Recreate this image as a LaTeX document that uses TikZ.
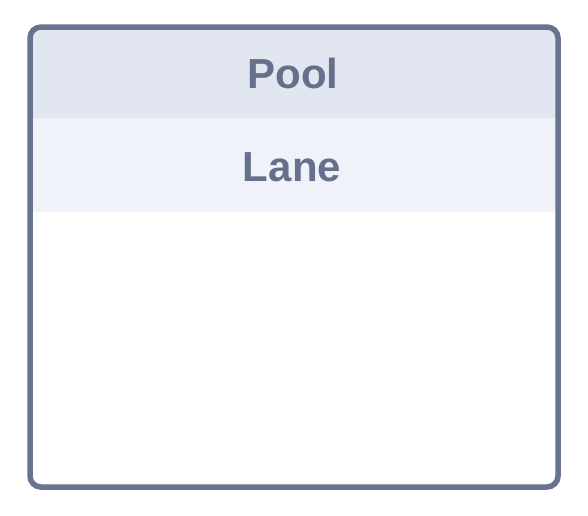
\documentclass[tikz,border=0pt]{standalone}
\usepackage{fontspec}
\setmainfont{Liberation Sans}
\definecolor{poolborder}{HTML}{68738F}
\definecolor{pooltext}{HTML}{66708B}
\definecolor{headfill}{HTML}{E2E6F0}
\definecolor{lanefill}{HTML}{EFF2F8}
\tikzset{
  poolframe/.style={draw=poolborder, line width=5.5pt, rounded corners=11pt},
  bandlabel/.style={text=pooltext, font=\fontsize{42}{48}\selectfont\bfseries, anchor=base, inner sep=0pt},
}
\begin{document}
\begin{tikzpicture}[x=1pt,y=-1pt]
\useasboundingbox (0,0) rectangle (588,515);
\begin{scope}
  \clip[rounded corners=11pt] (30,27) rectangle (558,487);
  \fill[white] (30,27) rectangle (558,487);
  \fill[headfill] (30,27) rectangle (558,118);
  \fill[lanefill] (30,118) rectangle (558,212);
\end{scope}
\node[poolframe, minimum width=528pt, minimum height=460pt, inner sep=0pt] (pool) at (294,257) {};
\node[bandlabel] (pooltitle) at (293,88) {Pool};
\node[bandlabel] (lanetitle) at (292,181) {Lane};
\end{tikzpicture}
\end{document}
